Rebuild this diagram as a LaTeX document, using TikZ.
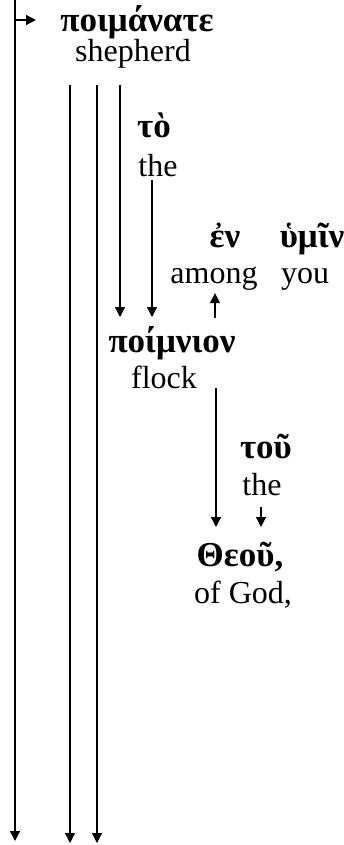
\documentclass[tikz,border=0pt]{standalone}
\usepackage{fontspec}
\setmainfont{Liberation Serif}
\usetikzlibrary{arrows.meta}

\begin{document}
\begin{tikzpicture}[x=1pt,y=-1pt,
   every node/.style={inner sep=0pt,anchor=base},
   gk/.style={font=\fontsize{35}{40}\selectfont\bfseries},
   en/.style={font=\fontsize{32}{38}\selectfont},
   link/.style={line width=1.3pt,-{Triangle[width=10pt,length=10pt]}}]

\useasboundingbox (0,0) rectangle (344,845);

% words
\node[gk] (poimanate) at (137,32)  {ποιμάνατε};
\node[en] (shepherd)  at (133,62)  {shepherd};
\node[gk] (to)        at (154,138) {τὸ};
\node[en] (theA)      at (158,177) {the};
\node[gk] (en)        at (225,247) {ἐν};
\node[gk] (humin)     at (312,247) {ὑμῖν};
\node[en] (among)     at (214,283) {among};
\node[en] (you)       at (305,283) {you};
\node[gk] (poimnion)  at (172,352) {ποίμνιον};
\node[en] (flock)     at (164,388) {flock};
\node[gk] (tou)       at (266,458) {τοῦ};
\node[en] (theB)      at (262,495) {the};
\node[gk] (theou)     at (240,566) {Θεοῦ,};
\node[en] (ofgod)     at (243,603) {of God,};

% line ends
\coordinate (top)   at (15,0);
\coordinate (fork)  at (15,20);
\coordinate (forkB) at (36,20);
\coordinate (end0)  at (15,841);
\coordinate (s1)    at (70,85);
\coordinate (s2)    at (97,85);
\coordinate (s3)    at (120,85);
\coordinate (end1)  at (70,843);
\coordinate (end2)  at (97,843);
\coordinate (p1)    at (120,317);
\coordinate (t1)    at (152,180);
\coordinate (p2)    at (152,317);
\coordinate (up)    at (215,318);
\coordinate (f1)    at (216,388);
\coordinate (g1)    at (216,527);
\coordinate (t2)    at (261,507);
\coordinate (g2)    at (261,527);

% connectors
\draw[line width=1.3pt] (top) -- (fork);
\draw[link] (fork) -- (end0);
\draw[link] (fork) -- (forkB);
\draw[link] (s1) -- (end1);
\draw[link] (s2) -- (end2);
\draw[link] (s3) -- (p1);
\draw[link] (t1) -- (p2);
\draw[link,shorten >=3pt] (up) -- (up |- among.south);
\draw[link] (f1) -- (g1);
\draw[link] (t2) -- (g2);

\end{tikzpicture}
\end{document}
